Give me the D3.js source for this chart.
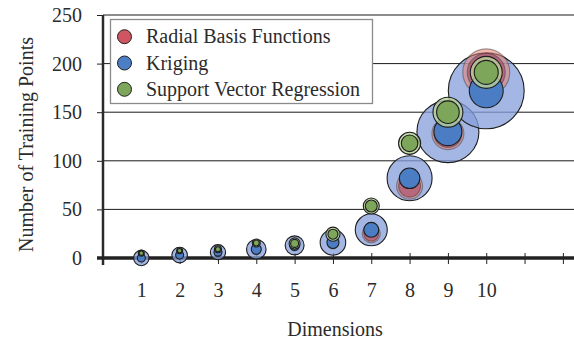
<!DOCTYPE html>
<html>
<head>
<meta charset="utf-8">
<script src="https://cdn.jsdelivr.net/npm/d3@7"></script>
<style>
  body { margin: 0; background: #fff; }
  svg text { font-family: "Liberation Serif", "Times New Roman", serif; fill: #2b2b2b; }
</style>
</head>
<body>
<script>
// Chart values
const dims = [1, 2, 3, 4, 5, 6, 7, 8, 9, 10];
const xTicks = [1, 2, 3, 4, 5, 6, 7, 8, 9, 10, 11, 12];
const yTicks = [0, 50, 100, 150, 200, 250];
const seriesNames = ["Radial Basis Functions", "Kriging", "Support Vector Regression"];

// Number of training points per method
const rbfPoints = [0, 3, 5, 8, 12, 15, 25, 74, 128, 191];
const krigingPoints = [0, 3, 6, 9, 13, 16, 29, 82, 130, 172];
const svrPoints = [5, 7.5, 9, 15.5, 15, 24.5, 53.5, 118, 150, 191];

// Bubble sizes (outer / inner) per method
const krigingOuter = [3.7, 3.8, 3.6, 6.0, 5.6, 10.2, 16, 31.6, 60, 90];
const krigingInner = [1, 1, 1, 1.56, 1.56, 2.25, 3.5, 6.6, 12.2, 18];
const rbfOuter = [0.77, 0.77, 0.77, 1.27, 1.27, 1.9, 5.1, 10.6, 16, 34.5];
const rbfInner = [0.56, 0.56, 0.56, 1, 1, 1.56, 3.5, 7.6, 12.2, 22.6];
const svrOuter = [0.56, 0.56, 0.77, 1, 1.9, 3.1, 4, 7.6, 14, 16];
const svrInner = [0.3, 0.3, 0.4, 0.56, 1, 1.56, 2.25, 4.3, 8, 9];

const width = 574, height = 341;

const svg = d3.select("body").append("svg")
    .attr("width", width)
    .attr("height", height);

const x = d3.scaleLinear().domain([0, 12.29]).range([103, 574]);
const y = d3.scaleLinear().domain([0, 250]).range([258, 15]);
const r = d3.scaleSqrt().domain([0, 100]).range([0, 40]);

// Gridlines
svg.append("g")
    .selectAll("line")
    .data(yTicks.filter(d => d > 0))
    .join("line")
    .attr("x1", x(0)).attr("x2", width)
    .attr("y1", d => y(d)).attr("y2", d => y(d))
    .attr("stroke", "#1a1a1a").attr("stroke-width", 1);

// Y axis
const yAxis = svg.append("g")
    .attr("transform", `translate(${x(0)},0)`)
    .call(d3.axisLeft(y).tickValues(yTicks).tickSize(6).tickPadding(15));
yAxis.select(".domain").remove();
yAxis.selectAll("line").attr("stroke", "#222");
yAxis.selectAll("text").attr("font-size", 20).attr("font-family", "Liberation Serif");
svg.append("line")
    .attr("x1", x(0)).attr("x2", x(0))
    .attr("y1", y(250)).attr("y2", 265)
    .attr("stroke", "#2a2a2a").attr("stroke-width", 2.5);

// X axis
const xAxis = svg.append("g")
    .attr("transform", "translate(0,253)")
    .call(d3.axisBottom(x).tickValues(xTicks).tickSize(11).tickPadding(19)
        .tickFormat(d => d <= 10 ? d : ""));
xAxis.select(".domain").remove();
xAxis.selectAll("line").attr("stroke", "#222");
xAxis.selectAll("text").attr("font-size", 20).attr("font-family", "Liberation Serif");
svg.append("line")
    .attr("x1", 97).attr("x2", width)
    .attr("y1", y(0)).attr("y2", y(0))
    .attr("stroke", "#222").attr("stroke-width", 3.5);

// Bubble layers, drawn in series order
const layers = [
    { vals: krigingPoints, sizes: krigingOuter, fill: "#869eda", op: 0.75, stroke: "#1e1e1e", sop: 1 },
    { vals: rbfPoints, sizes: rbfOuter, fill: "#e88272", op: 0.55, stroke: "#333", sop: 0.45 },
    { vals: rbfPoints, sizes: rbfInner, fill: "#a8405c", op: 0.55, stroke: "#333", sop: 0.45 },
    { vals: krigingPoints, sizes: krigingInner, fill: "#4a7dc4", op: 1, stroke: "#1e1e1e", sop: 1 },
    { vals: svrPoints, sizes: svrOuter, fill: "#b9d29a", op: 0.8, stroke: "#1e1e1e", sop: 1 },
    { vals: svrPoints, sizes: svrInner, fill: "#7da65a", op: 1, stroke: "#1e1e1e", sop: 1 }
];

const bubbles = svg.append("g");
layers.forEach(layer => {
    bubbles.append("g")
        .selectAll("circle")
        .data(dims.map((d, i) => ({ dim: d, v: layer.vals[i], s: layer.sizes[i] })))
        .join("circle")
        .attr("cx", d => x(d.dim))
        .attr("cy", d => y(d.v))
        .attr("r", d => r(d.s))
        .attr("fill", layer.fill)
        .attr("fill-opacity", layer.op)
        .attr("stroke", layer.stroke)
        .attr("stroke-opacity", layer.sop)
        .attr("stroke-width", 1.1);
});

// Legend
const legend = svg.append("g");
legend.append("rect")
    .attr("x", 110.5).attr("y", 19.5)
    .attr("width", 262).attr("height", 84)
    .attr("fill", "#fff")
    .attr("stroke", "#8a8a8a").attr("stroke-width", 1.3);
const legendColors = ["#cf5560", "#4c7ec6", "#7da65a"];
const rows = legend.selectAll("g.row")
    .data(seriesNames)
    .join("g")
    .attr("class", "row")
    .attr("transform", (d, i) => `translate(0,${36.7 + i * 26.3})`);
rows.append("circle")
    .attr("cx", 124.5).attr("cy", 0).attr("r", 7)
    .attr("fill", (d, i) => legendColors[i])
    .attr("stroke", "#222").attr("stroke-width", 1);
rows.append("text")
    .attr("x", 146).attr("y", 6.5)
    .attr("font-size", 20)
    .text(d => d);

// Axis titles
svg.append("text")
    .attr("x", 335).attr("y", 336)
    .attr("text-anchor", "middle")
    .attr("font-size", 20)
    .text("Dimensions");
svg.append("text")
    .attr("transform", "translate(33,144.5) rotate(-90)")
    .attr("text-anchor", "middle")
    .attr("font-size", 20)
    .text("Number of Training Points");
</script>
</body>
</html>
